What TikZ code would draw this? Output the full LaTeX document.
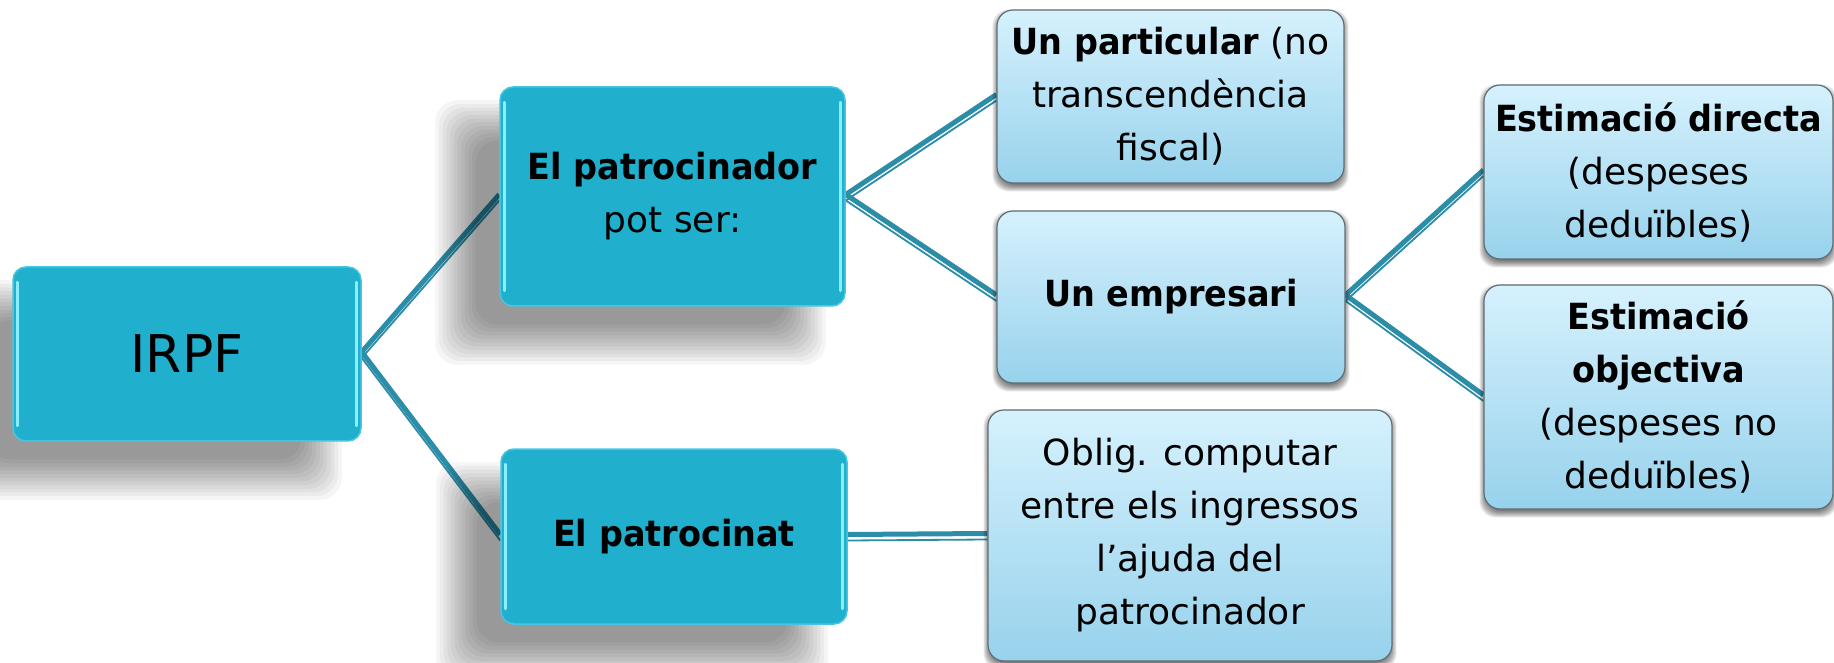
\documentclass[tikz,border=0pt]{standalone}
\usepackage{fontspec}
\setmainfont{DejaVu Sans}[BoldFeatures={FakeStretch=0.93}]
\definecolor{darkbox}{HTML}{21AFCE}
\definecolor{darkedge}{HTML}{45C6E2}
\definecolor{hilite}{HTML}{8AEEFF}
\definecolor{lighttop}{HTML}{D6F1FD}
\definecolor{lightbot}{HTML}{97D2EC}
\definecolor{lightedge}{HTML}{5F6E74}
\definecolor{conn}{HTML}{2B8DA8}
\pgfdeclarelayer{back}
\pgfdeclarelayer{bg}
\pgfdeclarelayer{shade}
\pgfsetlayers{back,bg,shade,main}
\tikzset{
 darknode/.style={draw=darkedge, line width=1.5pt, fill=darkbox, rounded corners=13pt,
   align=center, font=\fontsize{36}{53}\selectfont, inner sep=0pt},
 lightnode/.style={draw=lightedge, line width=1.2pt, top color=lighttop, bottom color=lightbot,
   rounded corners=16pt, align=center, font=\fontsize{36}{53}\selectfont, inner sep=0pt},
 thickc/.style={draw=conn, line width=5pt},
 thinc/.style={draw=conn, line width=1.8pt},
}
\newcommand{\glossbox}[1]{%
  \draw[hilite, line width=3pt, line cap=round] ([xshift=5pt,yshift=-16pt]#1.north west) -- ([xshift=5pt,yshift=16pt]#1.south west);
  \draw[hilite, line width=3pt, line cap=round] ([xshift=-5pt,yshift=-16pt]#1.north east) -- ([xshift=-5pt,yshift=16pt]#1.south east);
}
% #1 node, #2 dx, #3 dy, #4 blur radius, #5 opacity per layer, #6 corner radius
\newcommand{\softshadow}[6]{%
  \foreach \k in {0,...,11}{%
    \pgfmathsetmacro\ee{#4*(1-2*\k/12)}%
    \fill[black, opacity=#5, rounded corners=#6] ([shift={(#2-\ee pt,#3-\ee pt)}]#1.south west) rectangle ([shift={(#2+\ee pt,#3+\ee pt)}]#1.north east);
  }%
}
\newcommand{\linkpair}[2]{%
  \draw[thickc] ([yshift=2pt]#1.east) -- ([yshift=2pt]#2.west);
  \draw[thinc] ([yshift=-4pt]#1.east) -- ([yshift=-4pt]#2.west);
}
\begin{document}
\begin{tikzpicture}[x=1pt,y=1pt]
\useasboundingbox (0,0) rectangle (1834,662);
\begin{pgfonlayer}{back}
\fill[white] (0,0) rectangle (1834,662);
\end{pgfonlayer}

\node[darknode, minimum width=348pt, minimum height=174pt] (irpf) at (187,308)
  {\fontsize{52}{60}\selectfont IRPF};
\node[darknode, minimum width=345pt, minimum height=219pt] (pator) at (672.5,465.5)
  {\textbf{El patrocinador}\\pot ser:};
\node[darknode, minimum width=346pt, minimum height=175pt] (patnat) at (674,125.5)
  {\textbf{El patrocinat}};
\node[lightnode, minimum width=347pt, minimum height=173pt] (partic) at (1170.5,565.5)
  {\textbf{Un particular} (no\\transcendència\\fiscal)};
\node[lightnode, minimum width=348pt, minimum height=172pt] (empres) at (1171,365)
  {\textbf{Un empresari}};
\node[lightnode, minimum width=349pt, minimum height=174pt] (directa) at (1658.5,490)
  {\textbf{Estimació directa}\\(despeses\\deduïbles)};
\node[lightnode, minimum width=349pt, minimum height=224pt] (objet) at (1658.5,265)
  {\textbf{Estimació}\\\textbf{objectiva}\\(despeses no\\deduïbles)};
\node[lightnode, minimum width=404pt, minimum height=251pt] (oblig) at (1190,126.5)
  {Oblig. computar\\entre els ingressos\\l’ajuda del\\patrocinador};

\glossbox{irpf}
\glossbox{pator}
\glossbox{patnat}

\begin{pgfonlayer}{shade}
\softshadow{irpf}{-42pt}{-36pt}{22}{0.04}{22pt}
\softshadow{pator}{-42pt}{-36pt}{22}{0.04}{22pt}
\softshadow{patnat}{-42pt}{-36pt}{22}{0.04}{22pt}
\softshadow{partic}{0pt}{-4pt}{4}{0.06}{16pt}
\softshadow{empres}{0pt}{-4pt}{4}{0.06}{16pt}
\softshadow{directa}{0pt}{-4pt}{4}{0.06}{16pt}
\softshadow{objet}{0pt}{-4pt}{4}{0.06}{16pt}
\softshadow{oblig}{0pt}{-4pt}{4}{0.06}{16pt}
\end{pgfonlayer}

\begin{pgfonlayer}{bg}
\linkpair{irpf}{pator}
\linkpair{irpf}{patnat}
\linkpair{pator}{partic}
\linkpair{pator}{empres}
\linkpair{empres}{directa}
\linkpair{empres}{objet}
\linkpair{patnat}{oblig}
\end{pgfonlayer}
\end{tikzpicture}
\end{document}
